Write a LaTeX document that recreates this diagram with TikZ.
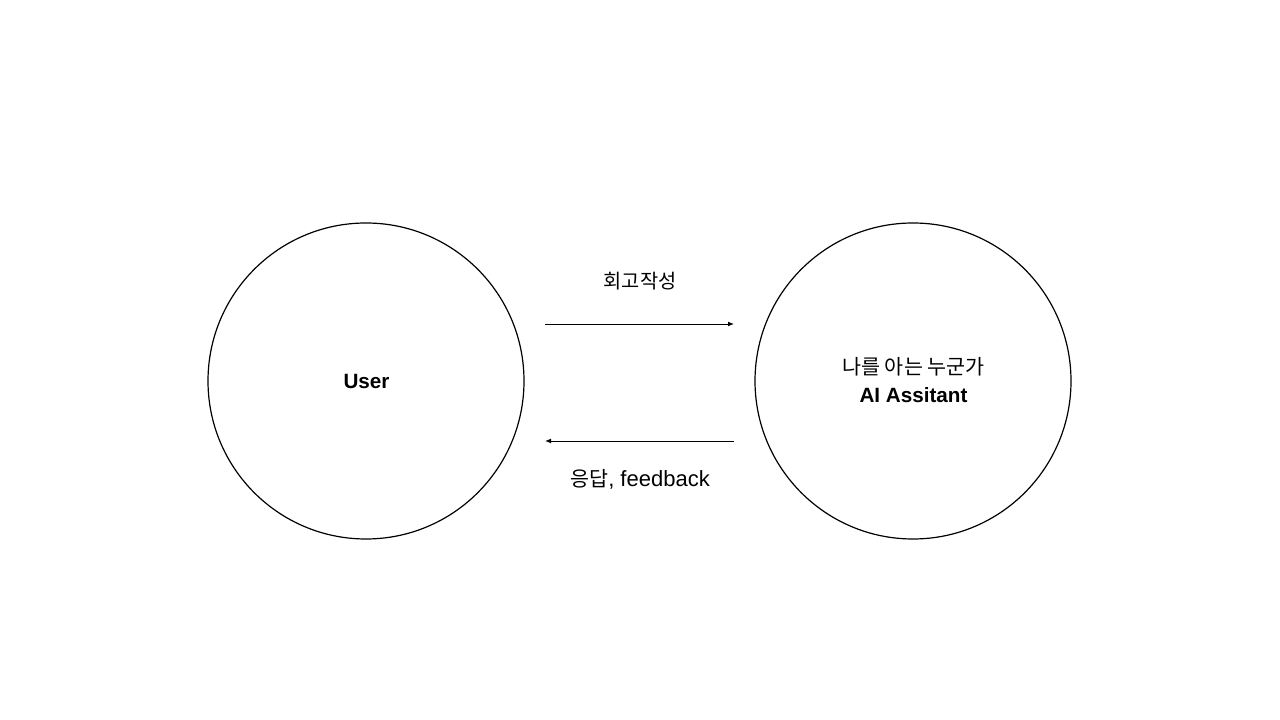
\documentclass[tikz,border=0pt]{standalone}
\usepackage{fontspec}
\setmainfont{Liberation Sans}
\newfontfamily\cjk{Noto Sans CJK KR}
\usetikzlibrary{arrows.meta}
\begin{document}
\begin{tikzpicture}[x=0.75pt,y=0.75pt,
  bubble/.style={draw=black,line width=0.9pt,circle,minimum size=237pt,inner sep=0pt},
  flow/.style={draw=black,line width=0.65pt,-{Latex[length=4.5pt,width=3.6pt]}},
  lbl/.style={font=\fontsize{15.5pt}{18pt}\selectfont,inner sep=0pt,align=center}]
\useasboundingbox (0,0) rectangle (1280,720);
\node[bubble] (user) at (366,339) {};
\node[bubble] (ai) at (913,339) {};
\node[lbl,font=\fontsize{15.5pt}{18pt}\selectfont\bfseries] (usertxt) at (366.5,339) {User};
\node[lbl] (aitxt1) at (913.5,353) {\cjk 나를 아는 누군가};
\node[lbl,font=\fontsize{15.5pt}{18pt}\selectfont\bfseries] (aitxt2) at (913.5,325) {AI Assitant};
\coordinate (a1s) at (545,396);
\coordinate (a1e) at (734,396);
\coordinate (a2s) at (734,279);
\coordinate (a2e) at (545,279);
\draw[flow] (a1s) -- (a1e);
\draw[flow] (a2s) -- (a2e);
\node[lbl,font=\fontsize{14.8pt}{18pt}\selectfont] (toplbl) at (640,439) {\cjk 회고작성};
\node[lbl,font=\fontsize{16.5pt}{18pt}\selectfont] (botlbl) at (640,241) {{\cjk\fontsize{15.5pt}{18pt}\selectfont 응답}, feedback};
\end{tikzpicture}
\end{document}
